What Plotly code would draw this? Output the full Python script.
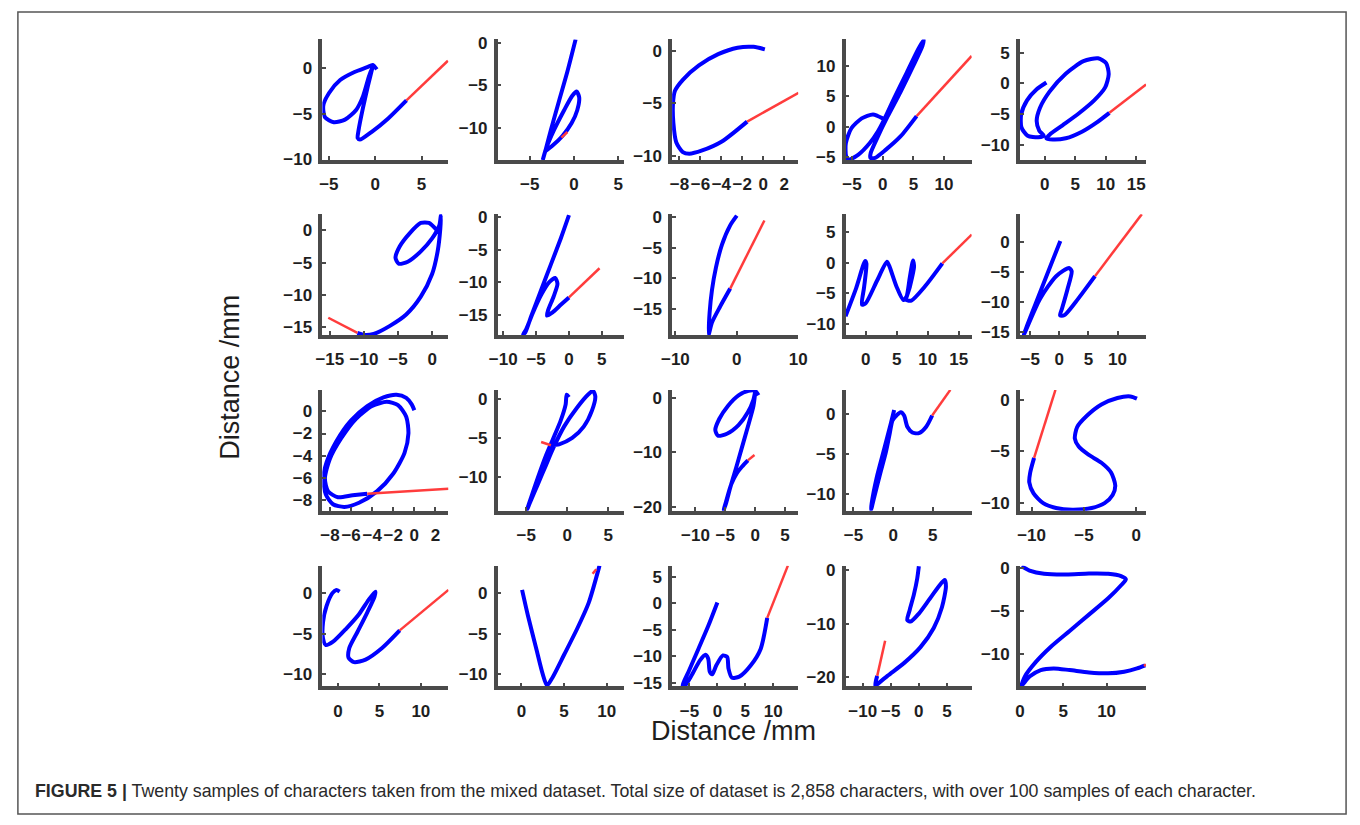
import plotly.graph_objects as go

# ---------------- data: pen trajectories (mm), blue = written stroke, red = extension
A_X = [0.17, -0.27, -0.86, -2.23, -3.78, -4.98, -5.6, -5.43, -4.47, -3.26, -2.06, -1.31, -0.69, -0.27, -0.76, -1.31, -1.79, -1.89, -1.65, -0.34, 1.37, 3.37]
A_Y = [-0.11, 0.39, 0.14, -0.39, -1.28, -2.7, -4.1, -5.35, -5.92, -5.64, -4.57, -3.05, -0.93, 0.25, -1.81, -4.29, -6.77, -7.66, -7.84, -6.95, -5.53, -3.51]
A_RX = [3.37, 7.84]
A_RY = [-3.51, 0.85]

B_X = [0.19, -0.74, -1.67, -2.59, -3.26, -3.52, -3.15, -2.22, -1.11, -0.19, 0.3, 0.59, 0.37, -0.26, -1.3, -2.41, -3.26]
B_Y = [0.42, -3.37, -6.78, -10.19, -12.84, -13.78, -12.46, -10.19, -7.92, -6.21, -5.72, -6.4, -7.92, -9.43, -10.95, -12.08, -12.77]
B_RX = [-1.41, -0.74]
B_RY = [-11.14, -10.49]

C_X = [0.16, -0.92, -2.45, -4.3, -6.14, -7.68, -8.44, -8.62, -8.58, -8.3, -7.68, -7.06, -5.83, -3.99, -1.53]
C_Y = [0.15, 0.39, 0.31, -0.31, -1.38, -2.75, -3.82, -5.05, -6.88, -8.72, -9.63, -9.79, -9.48, -8.65, -6.73]
C_RX = [-1.53, 3.38]
C_RY = [-6.73, -3.98]

D_X = [0, -1.58, -3.42, -5.1, -6.0, -5.95, -5.53, -3.95, -2.1, -0.79, 0.16, 1.84, 3.95, 5.79, 6.68, 6.48, 5.0, 2.9, 0.79, -0.9, -1.95, -2.0, -1.22, 0.53, 2.9, 5.53]
D_Y = [1.35, 2.0, 1.35, -0.28, -2.72, -4.88, -5.43, -4.62, -2.72, -0.81, 0.98, 4.6, 8.94, 12.73, 14.3, 13.27, 10.02, 5.69, 1.63, -1.9, -4.34, -5.15, -5.15, -3.8, -1.63, 1.72]
D_RX = [5.53, 14.5]
D_RY = [1.72, 11.64]

E_X = [0.27, -1.32, -2.9, -3.86, -3.81, -2.8, -1.05, -0.16, -0.89, -1.32, -0.79, 0.79, 3.44, 6.35, 8.73, 10.06, 10.48, 9.9, 8.1, 5.56, 2.92, 0.9, 0.27, 1.33, 3.44, 6.1, 8.48, 10.59]
E_Y = [0.16, -0.95, -2.75, -5.04, -7.15, -8.48, -8.74, -8.48, -7.68, -6.09, -3.97, -1.32, 1.59, 3.61, 4.09, 3.29, 1.48, -0.64, -2.75, -4.88, -6.79, -8.22, -8.9, -9.11, -8.9, -7.84, -6.36, -4.77]
E_RX = [10.59, 16.6]
E_RY = [-4.77, -0.16]

G_X = [0.71, -0.47, -1.66, -3.33, -4.76, -5.37, -4.9, -3.57, -1.66, 0, 1.06, 1.29, 1.2, 0.81, 0, -1.66, -3.8, -6.19, -8.57, -10.0, -10.95]
G_Y = [0, 1.14, 1.14, -0.5, -2.5, -4.25, -5.15, -4.85, -3.25, -1.25, 0.75, 2.34, 0.25, -3.25, -6.75, -10.25, -13.0, -14.75, -16.0, -16.15, -15.85]
G_RX = [-10.95, -15.23]
G_RY = [-15.85, -13.5]

H_X = [0, -1.25, -2.75, -4.25, -5.75, -6.65, -7.0, -6.5, -5.5, -4.25, -3.0, -2.1, -1.75, -2.35, -3.15, -3.35, -2.5, -1.25, 0]
H_Y = [0.35, -3.25, -7.25, -11.25, -15.25, -17.75, -18.1, -17.25, -14.75, -12.0, -10.0, -9.35, -10.25, -12.25, -14.25, -15.15, -14.65, -13.5, -12.35]
H_RX = [0, 4.65]
H_RY = [-12.35, -7.85]

I_X = [0, -1.08, -2.43, -3.4, -4.05, -4.43, -4.59, -4.05, -2.7, -1.08]
I_Y = [0.27, -1.32, -4.5, -8.22, -11.92, -15.63, -19.2, -17.22, -14.58, -11.66]
I_RX = [-1.08, 4.49]
I_RY = [-11.66, -0.52]

M_X = [-3.27, -1.58, -0.11, 0.1, -0.27, -0.63, 0, 1.83, 3.41, 3.79, 4.99, 6.05, 6.57, 7.11, 7.63, 7.79, 7.11, 6.57, 7.36, 9.48, 12.37]
M_Y = [-8.69, -4.2, 0.27, -0.16, -3.95, -6.84, -6.57, -2.89, 0.16, -0.52, -3.95, -6.05, -5.53, -2.37, 0.38, -0.68, -3.95, -6.05, -6.16, -3.95, -0.11]
M_RX = [12.37, 17.11]
M_RY = [-0.11, 4.58]

N_X = [0.17, -6.1, -3.33, -0.55, 1.67, 2.12, 1.4, 0.45, 0.12, 0.83, 2.78, 6.12]
N_Y = [0.16, -15.5, -9.54, -5.73, -4.36, -4.91, -7.9, -11.18, -12.27, -12.27, -10.08, -5.73]
N_RX = [6.12, 14.17]
N_RY = [-5.73, 4.64]

O_X = [0, -0.25, -0.77, -1.69, -2.93, -4.47, -6.02, -7.41, -8.33, -8.64, -8.4, -7.72, -6.64, -5.25, -3.55, -2.01, -0.93, -0.56, -0.77, -1.55, -2.62, -4.01, -5.56, -6.94, -8.03, -8.49, -8.18, -7.25, -5.86, -4.47]
O_Y = [0.11, 0.64, 1.23, 1.52, 1.28, 0.49, -0.82, -2.72, -4.62, -6.09, -7.54, -8.42, -8.66, -8.28, -7.25, -5.65, -3.75, -1.99, -0.47, 0.58, 0.88, 0.49, -0.68, -2.43, -4.33, -6.09, -7.25, -7.78, -7.61, -7.46]
O_RX = [-4.47, 3.24]
O_RY = [-7.46, -7.02]

P_X = [0.2, -0.08, -0.2, -0.8, -1.6, -2.6, -3.6, -4.4, -4.92, -4.6, -3.6, -2.6, -1.68, -0.4, 1.2, 2.6, 3.12, 3.41, 3.0, 2.0, 0.6, -1.0, -2.0]
P_Y = [0.29, 0.62, -0.62, -2.68, -4.73, -7.2, -10.08, -12.55, -14.2, -13.37, -10.9, -8.43, -6.17, -3.49, -1.03, 0.7, 1.11, 0.41, -1.44, -3.49, -4.94, -5.76, -5.88]
P_RX = [-2.0, -3.19]
P_RY = [-5.88, -5.47]

Q_X = [0.56, 0, -1.11, -2.78, -4.56, -5.99, -6.67, -6.22, -4.72, -2.78, -1.22, -0.28, 0, -0.28, -1.22, -2.22, -3.22, -4.17, -4.89, -5.28, -4.89, -4.0, -3.06, -2.22, -1.22]
Q_Y = [0.47, 1.29, 1.29, 0.47, -1.47, -3.83, -5.89, -6.94, -6.59, -5.0, -2.65, -0.3, 1.06, -1.47, -5.29, -9.12, -12.95, -16.47, -19.4, -20.6, -19.12, -15.87, -13.83, -12.65, -11.47]
Q_RX = [-1.22, -0.11]
Q_RY = [-11.47, -10.47]

R_X = [0.13, -0.29, -1.13, -2.08, -2.71, -2.79, -2.38, -1.67, -0.92, -0.42, -0.08, 0.42, 0.96, 1.38, 1.79, 2.42, 3.25, 4.17, 4.92]
R_Y = [0.48, -1.2, -4.4, -8.0, -11.2, -12.0, -10.4, -7.6, -4.8, -2.4, -0.8, -0.2, 0.2, -0.2, -1.6, -2.32, -2.4, -1.6, -0.2]
R_RX = [4.92, 7.21]
R_RY = [-0.2, 3.0]

S_X = [0.06, -0.56, -1.8, -3.33, -4.72, -5.65, -5.87, -5.5, -4.57, -3.33, -2.41, -2.01, -2.26, -3.03, -4.26, -6.11, -7.66, -8.89, -9.81, -10.22, -10.13, -9.76]
S_Y = [0.09, 0.31, 0.16, -0.47, -1.56, -2.65, -3.75, -4.53, -5.31, -6.09, -7.03, -8.28, -9.21, -9.99, -10.46, -10.62, -10.46, -9.99, -9.05, -7.97, -7.03, -5.62]
S_RX = [-9.76, -7.72]
S_RY = [-5.62, 0.94]

U_X = [0.2, -0.2, -0.67, -1.38, -1.8, -1.8, -1.46, -0.59, 0.98, 2.54, 3.72, 4.51, 4.42, 3.53, 2.35, 1.36, 1.29, 1.95, 3.33, 5.29, 7.45]
U_Y = [0.2, 0.4, 0, -1.6, -3.6, -5.6, -6.41, -6.0, -4.4, -2.6, -0.8, 0.2, -0.4, -2.4, -4.8, -6.81, -8.0, -8.52, -8.21, -6.81, -4.6]
U_RX = [7.45, 13.33]
U_RY = [-4.6, 0.4]

V_X = [0.08, 0.77, 1.73, 2.5, 3.0, 3.65, 5.0, 6.53, 7.88, 9.15]
V_Y = [0.4, -2.8, -6.81, -10.01, -11.4, -10.41, -7.61, -4.4, -1.2, 3.4]
V_RX = [8.34, 8.77]
V_RY = [2.4, 2.95]

W_X = [0, -1.64, -3.4, -5.17, -6.23, -5.87, -4.59, -3.12, -2.12, -1.64, -1.36, -0.93, -0.18, 1.0, 1.76, 1.99, 2.59, 3.93, 6.0, 7.76, 8.94]
W_Y = [0.12, -4.32, -8.62, -12.92, -15.5, -15.6, -13.54, -10.77, -9.72, -10.46, -12.92, -13.41, -11.7, -9.85, -10.15, -12.31, -14.02, -13.84, -11.7, -8.62, -2.77]
W_RX = [8.94, 12.64]
W_RY = [-2.77, 7.07]

Y_X = [0, -0.29, -0.88, -1.65, -2.06, -1.47, 0, 1.76, 3.53, 4.59, 4.82, 4.11, 2.65, 0.29, -2.65, -5.59, -7.53, -7.76, -7.64, -7.41]
Y_Y = [0.77, -1.5, -4.48, -7.47, -9.27, -9.56, -8.07, -5.56, -2.99, -1.79, -2.99, -6.87, -10.75, -14.34, -17.33, -19.71, -21.4, -21.6, -20.61, -19.71]
Y_RX = [-7.41, -6.0]
Y_RY = [-19.71, -13.15]

Z_X = [0.18, 1.11, 2.78, 5.37, 7.96, 10.18, 11.67, 12.22, 11.67, 10.18, 7.96, 5.73, 3.51, 1.84, 0.56, 0.18, 1.11, 2.4, 3.89, 5.73, 7.96, 10.18, 12.03, 13.51, 14.45]
Z_Y = [0.23, -0.26, -0.64, -0.72, -0.61, -0.64, -0.92, -1.29, -1.98, -3.51, -5.42, -7.33, -9.23, -10.95, -12.67, -13.75, -12.67, -11.91, -11.72, -11.91, -12.18, -12.29, -12.1, -11.72, -11.36]
Z_RX = [14.3, 14.55]
Z_RY = [-11.41, -11.26]

CHARS = [
    (A_X, A_Y, A_RX, A_RY), (B_X, B_Y, B_RX, B_RY), (C_X, C_Y, C_RX, C_RY),
    (D_X, D_Y, D_RX, D_RY), (E_X, E_Y, E_RX, E_RY),
    (G_X, G_Y, G_RX, G_RY), (H_X, H_Y, H_RX, H_RY), (I_X, I_Y, I_RX, I_RY),
    (M_X, M_Y, M_RX, M_RY), (N_X, N_Y, N_RX, N_RY),
    (O_X, O_Y, O_RX, O_RY), (P_X, P_Y, P_RX, P_RY), (Q_X, Q_Y, Q_RX, Q_RY),
    (R_X, R_Y, R_RX, R_RY), (S_X, S_Y, S_RX, S_RY),
    (U_X, U_Y, U_RX, U_RY), (V_X, V_Y, V_RX, V_RY), (W_X, W_Y, W_RX, W_RY),
    (Y_X, Y_Y, Y_RX, Y_RY), (Z_X, Z_Y, Z_RX, Z_RY),
]

# axis limits and tick values (mm)
X_RANGES = [[-5.7, 7.9], [-8.6, 5.63], [-8.7, 3.35], [-6.05, 14.5], [-4.06, 16.6],
            [-16.1, 2.4], [-10.84, 8.35], [-10.53, 10.0], [-3.27, 17.1], [-6.77, 14.9],
            [-8.73, 3.24], [-8.48, 6.89], [-13.9, 7.22], [-6.0, 9.9], [-11.11, 0.93],
            [-1.88, 13.33], [-2.77, 12.0], [-8.11, 14.5], [-13.05, 9.4], [0, 14.55]]
Y_RANGES = [[-10.1, 3.2], [-13.8, 0.42], [-10.4, 1.1], [-5.53, 14.36], [-12.45, 7.15],
            [-16.15, 2.5], [-18.14, 0.5], [-19.24, 0.52], [-11.74, 7.9], [-15.55, 4.64],
            [-9.0, 1.96], [-14.28, 1.23], [-20.7, 1.47], [-12.09, 3.0], [-10.71, 0.94],
            [-11.52, 3.4], [-11.52, 3.4], [-15.68, 7.07], [-21.68, 0.9], [-13.82, 0.31]]
X_TICKS = [[-5, 0, 5], [-5, 0, 5], [-8, -6, -4, -2, 0, 2], [-5, 0, 5, 10], [0, 5, 10, 15],
           [-15, -10, -5, 0], [-10, -5, 0, 5], [-10, 0, 10], [0, 5, 10, 15], [-5, 0, 5, 10],
           [-8, -6, -4, -2, 0, 2], [-5, 0, 5], [-10, -5, 0, 5], [-5, 0, 5], [-10, -5, 0],
           [0, 5, 10], [0, 5, 10], [-5, 0, 5, 10], [-10, -5, 0, 5], [0, 5, 10]]
Y_TICKS = [[-10, -5, 0], [-10, -5, 0], [-10, -5, 0], [-5, 0, 5, 10], [-10, -5, 0, 5],
           [-15, -10, -5, 0], [-15, -10, -5, 0], [-15, -10, -5, 0], [-10, -5, 0, 5], [-15, -10, -5, 0],
           [-8, -6, -4, -2, 0], [-10, -5, 0], [-20, -10, 0], [-10, -5, 0], [-10, -5, 0],
           [-10, -5, 0], [-10, -5, 0], [-15, -10, -5, 0, 5], [-20, -10, 0], [-10, -5, 0]]

AXIS_TITLE = "Distance /mm"
CAPTION = ("<b>FIGURE 5 |</b> Twenty samples of characters taken from the mixed dataset. "
           "Total size of dataset is 2,858 characters, with over 100 samples of each character.")

# ---------------- layout geometry (pixels)
W, H = 1360, 825
COL_L = [316, 494, 671, 847, 1024]
ROW_T = [34, 212, 391, 570]
PW, PH = 128, 123

FONT = "Liberation Sans, Arial, sans-serif"

fig = go.Figure()
layout = dict(width=W, height=H, margin=dict(l=0, r=0, t=0, b=0),
              paper_bgcolor="white", plot_bgcolor="white", showlegend=False)

AX_COL = "#4a4a4a"
tickfont = dict(family=FONT, size=17, color="#1e1e1e", weight="bold")

for i, (bx, by, rx, ry) in enumerate(CHARS):
    n = i + 1
    r, c = divmod(i, 5)
    l = COL_L[c]
    t = ROW_T[r]
    xa = "x" if n == 1 else f"x{n}"
    ya = "y" if n == 1 else f"y{n}"
    fig.add_trace(go.Scatter(x=bx, y=by, mode="lines", xaxis=xa, yaxis=ya,
                             line=dict(color="#0000ff", width=4, shape="spline", smoothing=0.7),
                             hoverinfo="skip"))
    fig.add_trace(go.Scatter(x=rx, y=ry, mode="lines", xaxis=xa, yaxis=ya,
                             line=dict(color="#ff3c3c", width=2.5), hoverinfo="skip"))
    common = dict(showline=True, linewidth=3.5, linecolor=AX_COL, ticks="inside", ticklen=4,
                  tickwidth=1.5, tickcolor=AX_COL, showgrid=False, zeroline=False,
                  tickfont=tickfont, fixedrange=True, mirror=False, tickangle=0)
    layout["xaxis" if n == 1 else f"xaxis{n}"] = dict(
        domain=[l / W, (l + PW) / W], range=X_RANGES[i], tickvals=X_TICKS[i],
        anchor=ya, ticklabelstandoff=6, **common)
    layout["yaxis" if n == 1 else f"yaxis{n}"] = dict(
        domain=[1 - (t + PH) / H, 1 - t / H], range=Y_RANGES[i], tickvals=Y_TICKS[i],
        anchor=xa, ticklabelstandoff=3, **common)

fig.update_layout(**layout)

title_font = dict(family=FONT, size=27, color="#1e1e1e")
fig.add_annotation(text=AXIS_TITLE, x=733 / W, y=1 - 738 / H, xref="paper", yref="paper",
                   showarrow=False, xanchor="center", yanchor="middle", font=title_font)
fig.add_annotation(text=AXIS_TITLE, x=222 / W, y=1 - 378 / H, xref="paper", yref="paper",
                   showarrow=False, xanchor="center", yanchor="middle", textangle=-90, font=title_font)
fig.add_annotation(text=CAPTION, x=22 / W, y=1 - 800 / H, xref="paper", yref="paper",
                   showarrow=False, xanchor="left", yanchor="middle",
                   font=dict(family=FONT, size=17.8, color="#2a2a2a"))
fig.add_shape(type="rect", xref="paper", yref="paper", x0=7 / W, x1=1355 / W,
              y0=1 - 823 / H, y1=1 - 6 / H, line=dict(color="#555555", width=1.5))

fig.write_html("out.html",
               post_script="document.body.style.margin='0';document.body.style.overflow='hidden';")
